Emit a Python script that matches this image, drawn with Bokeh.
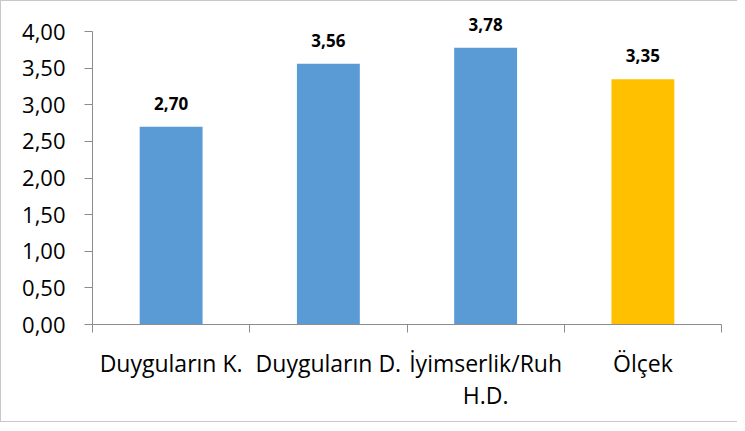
from bokeh.plotting import figure
from bokeh.models import Range1d, FixedTicker, ColumnDataSource, LabelSet
from bokeh.core.properties import value
from bokeh.embed import file_html
from bokeh.resources import INLINE

categories = ["Duyguların K.", "Duyguların D.", "İyimserlik/Ruh\nH.D.", "Ölçek"]
values = [2.70, 3.56, 3.78, 3.35]
bar_colors = ["#5B9BD5", "#5B9BD5", "#5B9BD5", "#FFC000"]
y_ticks = [0.0, 0.5, 1.0, 1.5, 2.0, 2.5, 3.0, 3.5, 4.0]
y_tick_labels = ["0,00", "0,50", "1,00", "1,50", "2,00", "2,50", "3,00", "3,50", "4,00"]

xs = [i + 0.5 for i in range(len(categories))]
value_labels = [f"{v:.2f}".replace(".", ",") for v in values]

src = ColumnDataSource(dict(x=xs, top=values, color=bar_colors, label=value_labels))

p = figure(width=737, height=422, output_backend="svg", toolbar_location=None,
           x_range=Range1d(0, len(categories)), y_range=Range1d(0, 4.328),
           min_border_left=91, min_border_right=17, min_border_top=6, min_border_bottom=99,
           outline_line_color=None)
p.styles = {"border-left": "1px solid #c8c8c8", "border-top": "1px solid #c8c8c8",
            "border-bottom": "1px solid #c8c8c8"}

p.vbar(x="x", top="top", width=0.4, bottom=0, color="color", source=src, line_color=None)

labels = LabelSet(x="x", y="top", text="label", source=src, text_align="center",
                  text_baseline="alphabetic", y_offset=17, text_font=value("Noto Sans"),
                  text_font_style="bold", text_font_size="17px", text_color="black")
p.add_layout(labels)

p.xgrid.grid_line_color = None
p.ygrid.grid_line_color = None

axis_gray = "#8c8c8c"
xa = p.xaxis[0]
xa.ticker = FixedTicker(ticks=xs, minor_ticks=list(range(len(categories) + 1)))
xa.major_label_overrides = {x: c for x, c in zip(xs, categories)}
xa.major_tick_line_color = None
xa.minor_tick_line_color = axis_gray
xa.minor_tick_out = 8
xa.minor_tick_in = 0
xa.axis_line_color = axis_gray
xa.major_label_text_font = "Open Sans"
xa.major_label_text_font_size = "23px"
xa.major_label_text_color = "black"
xa.major_label_standoff = 14
xa.major_label_text_line_height = 1.0

ya = p.yaxis[0]
ya.bounds = (0, 4)
ya.ticker = FixedTicker(ticks=y_ticks, minor_ticks=[])
ya.major_label_overrides = {t: l for t, l in zip(y_ticks, y_tick_labels)}
ya.major_tick_line_color = axis_gray
ya.major_tick_out = 8
ya.major_tick_in = 0
ya.axis_line_color = axis_gray
ya.major_label_text_font = "Open Sans"
ya.major_label_text_font_size = "22px"
ya.major_label_text_color = "black"
ya.major_label_standoff = 19

open("out.html", "w").write(file_html(p, INLINE))
